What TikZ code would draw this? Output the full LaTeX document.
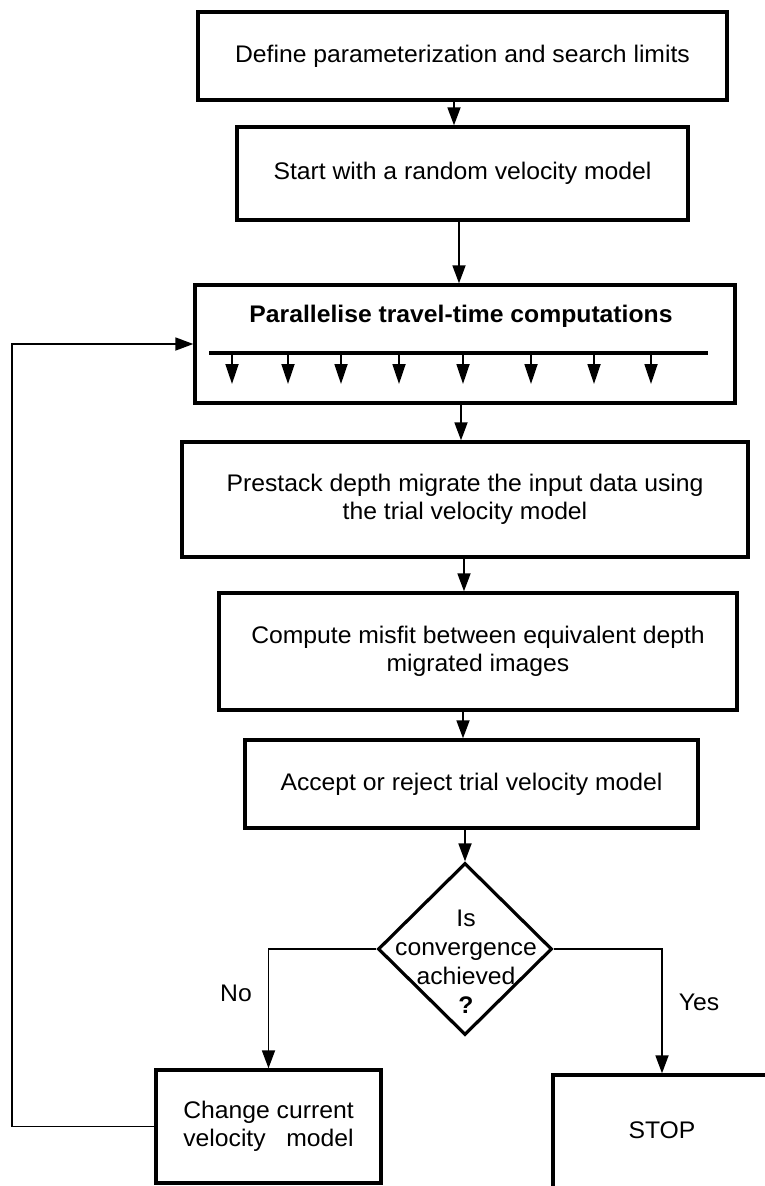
\documentclass[tikz,border=0pt]{standalone}
\usepackage{fontspec}
\setmainfont{Liberation Sans}[FakeStretch=1.03]
\usetikzlibrary{shapes.geometric,arrows.meta}
\begin{document}
\begin{tikzpicture}[x=1pt,y=-1pt,
  box/.style={draw, line width=3.4pt, rectangle, inner sep=0pt, align=center, font=\fontsize{24}{28}\selectfont},
  conn/.style={line width=1.8pt, -{Triangle[width=13pt,length=18pt]}},
  smallarr/.style={line width=1.8pt, -{Triangle[width=13pt,length=20pt]}},
  lbl/.style={font=\fontsize{24}{28}\selectfont, inner sep=0pt}]
\useasboundingbox[fill=white] (0,0) rectangle (764,1186);
\node[box, minimum width=529pt, minimum height=88pt] (define) at (462.5,56) {\raisebox{-5pt}{Define parameterization and search limits}};
\node[box, minimum width=451pt, minimum height=93pt] (start) at (462.5,173.5) {Start with a random velocity model};
\node[box, minimum width=540pt, minimum height=118pt] (par) at (465,344) {};
\node[lbl, font=\fontsize{24}{28}\selectfont\bfseries] (partitle) at (461,316) {Parallelise travel-time computations};
\coordinate (lineL) at (209,353);
\coordinate (lineR) at (708,353);
\draw[line width=3.2pt] (lineL) -- (lineR);
\foreach \x in {232,288,341,399,463,531,594,651}{
  \draw[smallarr] (\x,353) -- (\x,384);
}
\node[box, minimum width=566pt, minimum height=115pt] (prestack) at (465,499.5) {\raisebox{-3pt}{\begin{tabular}{@{}c@{}}Prestack depth migrate the input data using\\the trial velocity model\end{tabular}}};
\node[box, minimum width=518pt, minimum height=117pt] (compute) at (478,651.5) {\raisebox{-2pt}{\begin{tabular}{@{}c@{}}Compute misfit between equivalent depth\\migrated images\end{tabular}}};
\node[box, minimum width=453pt, minimum height=88pt] (accept) at (471.5,784) {Accept or reject trial velocity model};
\node[draw, diamond, line width=3.2pt, minimum width=174pt, minimum height=172pt, inner sep=0pt] (dia) at (465,949) {};
\node[lbl, align=center, font=\fontsize{24}{29}\selectfont] (diatext) at (466,962) {Is\\convergence\\achieved\\\textbf{?}};
\node[box, minimum width=225pt, minimum height=113pt, align=left] (change) at (268.5,1126.5) {Change current\\velocity\ \ \ model};
\node[box, minimum width=218pt, minimum height=130pt] (stop) at (662,1140) {};
\node[lbl] (stoptext) at (662,1130) {STOP};
\draw[conn] (define.south -| 454,0) -- (start.north -| 454,0);
\draw[conn] (start.south -| 459,0) -- (par.north -| 459,0);
\draw[conn] (par.south -| 461,0) -- (prestack.north -| 461,0);
\draw[conn] (prestack.south -| 464,0) -- (compute.north -| 464,0);
\draw[conn] (compute.south -| 463,0) -- (accept.north -| 463,0);
\draw[conn] (accept.south -| dia.north) -- (dia.north);
\draw[conn] (dia.west) -| (change.north);
\draw[conn] (dia.east) -| (stop.north);
\draw[conn] (change.west) -- ++(-142,0) |- (par.west);
\node[lbl] (no) at (236,993) {No};
\node[lbl] (yes) at (699,1002) {Yes};
\end{tikzpicture}
\end{document}
